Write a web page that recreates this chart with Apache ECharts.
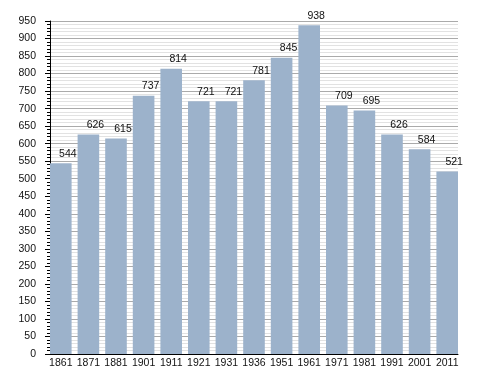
<!DOCTYPE html>
<html><head><meta charset="utf-8">
<script src="https://cdn.jsdelivr.net/npm/echarts@6/dist/echarts.min.js"></script>
<style>html,body{margin:0;padding:0;background:#fff;}#c{width:488px;height:373px;}</style>
</head><body><div id="c"></div>
<script>
var categories = ['1861','1871','1881','1901','1911','1921','1931','1936','1951','1961','1971','1981','1991','2001','2011'];
var population = [544,626,615,737,814,721,721,781,845,938,709,695,626,584,521];
var yMin = 0, yMax = 950, yStep = 50;

var chart = echarts.init(document.getElementById('c'), null, {renderer:'canvas'});
var font = 'Liberation Sans, Arial, Helvetica, sans-serif';
chart.setOption({
  animation:false,
  backgroundColor:'#fff',
  grid:[
    {left:50, right:30, top:21, bottom:19},
    {left:47, right:27, top:21, bottom:19}
  ],
  xAxis:[
    {gridIndex:0, type:'category', data:categories,
     axisLine:{show:true, lineStyle:{color:'#000', width:1}},
     axisTick:{show:false}, axisLabel:{show:false}, splitLine:{show:false}},
    {gridIndex:1, type:'category', data:categories,
     axisLine:{show:false}, axisTick:{show:false},
     axisLabel:{show:true, interval:0, color:'#111', fontSize:10.5, fontFamily:font, margin:4}}
  ],
  yAxis:[
    {gridIndex:0, type:'value', min:yMin, max:yMax, interval:yStep,
     axisLine:{show:true, lineStyle:{color:'#000'}},
     axisTick:{show:true, length:5, lineStyle:{color:'#000'}},
     minorTick:{show:true, splitNumber:5, length:3, lineStyle:{color:'#000'}},
     axisLabel:{color:'#111', fontSize:10.5, fontFamily:font, margin:14},
     splitLine:{show:true, lineStyle:{color:'#aaaaaa', width:1}},
     minorSplitLine:{show:true, lineStyle:{color:'#e2e2e2', width:1}}},
    {gridIndex:1, type:'value', min:yMin, max:yMax, show:false}
  ],
  series:[{
    type:'bar', xAxisIndex:1, yAxisIndex:1, data:population,
    barWidth:21.6,
    itemStyle:{color:'#9cb2cb'},
    label:{show:true, position:'top', distance:4, offset:[7,0], color:'#111', fontSize:10.5, fontFamily:font}
  }]
});
</script></body></html>
